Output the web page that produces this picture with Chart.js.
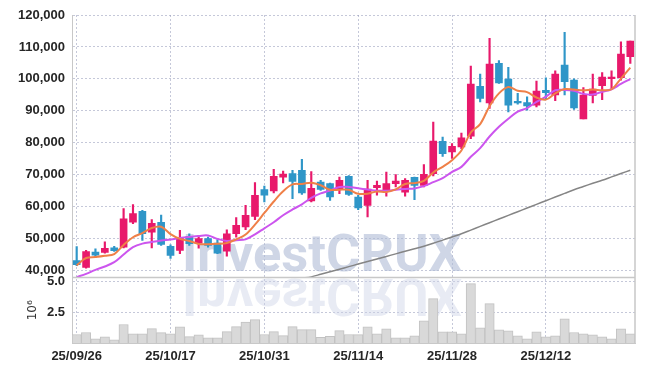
<!DOCTYPE html>
<html>
<head>
<meta charset="utf-8">
<script src="https://cdn.jsdelivr.net/npm/chart.js@4.4.1/dist/chart.umd.min.js"></script>
<style>
  html, body { margin: 0; padding: 0; background: #fff; }
  #wrap { width: 645px; height: 371px; position: relative; }
</style>
</head>
<body>
<div id="wrap"><canvas id="chart"></canvas></div>
<script>
// trading days shown on the x axis
const dates = [
  '25/09/26', '25/09/29', '25/09/30', '25/10/01', '25/10/02', '25/10/10', '25/10/13', '25/10/14', '25/10/15', '25/10/16',
  '25/10/17', '25/10/20', '25/10/21', '25/10/22', '25/10/23', '25/10/24', '25/10/27', '25/10/28', '25/10/29', '25/10/30',
  '25/10/31', '25/11/03', '25/11/04', '25/11/05', '25/11/06', '25/11/07', '25/11/10', '25/11/11', '25/11/12', '25/11/13',
  '25/11/14', '25/11/17', '25/11/18', '25/11/19', '25/11/20', '25/11/21', '25/11/24', '25/11/25', '25/11/26', '25/11/27',
  '25/11/28', '25/12/01', '25/12/02', '25/12/03', '25/12/04', '25/12/05', '25/12/08', '25/12/09', '25/12/10', '25/12/11',
  '25/12/12', '25/12/15', '25/12/16', '25/12/17', '25/12/18', '25/12/19', '25/12/22', '25/12/23', '25/12/24', '25/12/26'
];

const priceTicks = [40000, 50000, 60000, 70000, 80000, 90000, 100000, 110000, 120000];
const volumeTicks = [2.5, 5.0];

const opens = [
  43100, 40950, 45750, 45650, 47100, 47300, 55150, 58500, 52000, 55050,
  47550, 46250, 50650, 48550, 49950, 48550, 46050, 51500, 53600, 56950,
  65300, 64900, 69250, 70350, 71350, 61750, 67700, 67200, 65650, 69500,
  63000, 60400, 65950, 65300, 67200, 64550, 69150, 66650, 70350, 80450,
  77100, 78700, 82050, 97700, 92500, 104850, 99900, 92800, 92600, 91750,
  96450, 95000, 104300, 99600, 87450, 94800, 97900, 100100, 100350, 106950
];
const highs = [
  47500, 46300, 46800, 49000, 47550, 59350, 60600, 58800, 55900, 57350,
  48050, 52550, 51500, 51000, 50450, 49650, 52750, 56550, 60400, 67500,
  66450, 71700, 71150, 71350, 74800, 70950, 68250, 67400, 69250, 69700,
  63550, 68250, 68000, 70850, 70000, 68750, 69250, 73150, 86500, 81800,
  79750, 83050, 104000, 101500, 112700, 105700, 103600, 95450, 94350, 99300,
  100350, 102550, 114550, 100000, 97300, 101500, 102000, 102500, 111600, 111850
];
const lows = [
  41500, 40700, 44000, 45450, 45950, 47100, 54650, 49400, 47100, 47850,
  43750, 45250, 47850, 47000, 47300, 45250, 44500, 50450, 52750, 55900,
  61450, 64250, 67400, 62500, 63850, 61450, 65100, 61950, 64050, 63500,
  59050, 56750, 63550, 63300, 66150, 63300, 62200, 66150, 69600, 75750,
  75050, 78150, 81300, 92800, 90750, 98550, 89650, 92050, 90200, 91250,
  93500, 93200, 95000, 90400, 87450, 92500, 93500, 96600, 99600, 104850
];
const closes = [
  41800, 45950, 44800, 46900, 46200, 56200, 57800, 51500, 54750, 48150,
  44700, 50250, 48400, 49950, 47850, 45450, 51500, 54100, 57250, 63550,
  63550, 69500, 70200, 67900, 64250, 65700, 65400, 63000, 68250, 63850,
  59550, 65500, 66650, 67200, 68000, 68250, 66650, 70100, 80550, 76600,
  78900, 81500, 98350, 93850, 104650, 98750, 91750, 92500, 91550, 96150,
  95650, 101500, 99100, 90900, 94900, 96800, 100550, 100550, 107750, 111850
];

// moving averages
const ma5 = [
  41600, 43900, 44200, 44600, 45150, 48000, 50400, 51700, 53300, 53700,
  51400, 49900, 49250, 48300, 48250, 48350, 48600, 49750, 51250, 54350,
  58000, 61600, 64800, 66950, 67100, 67500, 66700, 65250, 65300, 65250,
  64000, 64050, 64750, 64550, 65400, 67100, 67350, 68050, 70700, 72450,
  74550, 77550, 83200, 85850, 91450, 95450, 97450, 96300, 95850, 94150,
  93500, 95450, 96800, 96650, 96400, 96650, 96450, 96750, 100100, 103500
];
const ma10 = [
  37900, 38950, 40200, 41250, 42600, 45000, 47300, 48400, 48900, 49400,
  49700, 50150, 50500, 50800, 50950, 49900, 49250, 49500, 49750, 51300,
  53200, 55100, 57300, 59100, 60700, 62750, 64150, 65050, 66150, 66150,
  65750, 65350, 65000, 64950, 65300, 65550, 65700, 66400, 67650, 68900,
  70850, 72450, 75600, 78300, 81950, 85000, 87500, 89750, 90850, 92800,
  94450, 96450, 96550, 96250, 95300, 95100, 95950, 96750, 98400, 99950
];
const ma60 = [
  null, null, null, null, null, null, null, null, null, null,
  null, null, null, null, null, null, null, null, null, null,
  null, null, null, null, 37600, 38000, 38800, 39600, 40400, 41200,
  42000, 42800, 43600, 44400, 45200, 46000, 46800, 47600, 48500, 49500,
  50500, 51500, 52650, 53800, 54950, 56100, 57250, 58400, 59550, 60700,
  61850, 63000, 64150, 65300, 66300, 67300, 68250, 69300, 70350, 71400
];

// volume in millions of shares
const volumes = [
  0.69, 0.85, 0.34, 0.50, 0.26, 1.50, 0.74, 0.74, 1.16, 0.84,
  0.74, 1.30, 0.51, 0.66, 0.42, 0.42, 0.92, 1.32, 1.70, 1.89,
  0.69, 0.92, 0.60, 1.32, 1.08, 1.08, 0.45, 0.54, 1.00, 0.69,
  0.68, 1.30, 0.75, 1.15, 0.42, 0.42, 0.58, 1.80, 3.59, 0.91,
  0.91, 0.74, 4.80, 1.23, 3.18, 1.07, 0.99, 0.58, 0.34, 0.91,
  0.50, 0.58, 1.96, 0.85, 0.74, 0.66, 0.50, 0.34, 1.15, 0.74
];

const UP = '#e8196b';
const DOWN = '#2f96c8';
const GRID = 'rgba(150,155,185,0.55)';
const candleColors = opens.map((o, i) => closes[i] >= o ? UP : DOWN);

const tickFont = { family: "'Liberation Sans', Arial, sans-serif", size: 13, weight: 'bold' };

// InvestCRUX watermark with its mirrored reflection
const watermark = {
    id: 'watermark',
    beforeDatasetsDraw(chart) {
        const ctx = chart.ctx;
        const area = chart.chartArea;
        const panelBottom = chart.scales.y.bottom;
        const text = 'InvestCRUX';
        ctx.save();
        ctx.font = "bold 52px Roboto, 'Liberation Sans', sans-serif";
        ctx.textBaseline = 'alphabetic';
        const sx = 280 / ctx.measureText(text).width;

        ctx.save();
        ctx.translate(area.left + 110, panelBottom - 7);
        ctx.scale(sx, 1);
        ctx.fillStyle = 'rgba(175,186,214,0.6)';
        ctx.fillText(text, 0, 0);
        ctx.restore();

        ctx.save();
        ctx.translate(area.left + 110, panelBottom + 1);
        ctx.scale(sx, -1);
        ctx.fillStyle = 'rgba(205,210,230,0.45)';
        ctx.fillText(text, 0, 0);
        ctx.restore();
        ctx.restore();
    }
};

// pane separator and right frame line
const frame = {
    id: 'frame',
    afterDatasetsDraw(chart) {
        const ctx = chart.ctx;
        const area = chart.chartArea;
        const y = chart.scales.y.bottom;
        ctx.save();
        ctx.strokeStyle = '#c8c8c8';
        ctx.lineWidth = 1.5;
        ctx.beginPath();
        ctx.moveTo(area.left, y);
        ctx.lineTo(area.right, y);
        ctx.moveTo(area.right, area.top);
        ctx.lineTo(area.right, area.bottom);
        ctx.stroke();
        ctx.restore();
    }
};

new Chart(document.getElementById('chart'), {
    type: 'bar',
    data: {
        labels: dates,
        datasets: [
            {
                type: 'line', label: 'MA5', data: ma5, yAxisID: 'y', order: 0,
                borderColor: '#ef8048', borderWidth: 2, pointRadius: 0, tension: 0.35
            },
            {
                type: 'line', label: 'MA10', data: ma10, yAxisID: 'y', order: 0,
                borderColor: '#cc55ee', borderWidth: 2, pointRadius: 0, tension: 0.35
            },
            {
                type: 'line', label: 'MA60', data: ma60, yAxisID: 'y', order: 0,
                borderColor: '#858585', borderWidth: 1.5, pointRadius: 0, tension: 0.3
            },
            {
                label: 'body', data: opens.map((o, i) => [o, closes[i]]), yAxisID: 'y', order: 1,
                backgroundColor: candleColors, barThickness: 7, grouped: false, minBarLength: 1.5
            },
            {
                label: 'wick', data: lows.map((l, i) => [l, highs[i]]), yAxisID: 'y', order: 2,
                backgroundColor: candleColors, barThickness: 1.5, grouped: false
            },
            {
                label: 'volume', data: volumes, yAxisID: 'yVol', order: 3,
                backgroundColor: '#d9d9d9', borderColor: '#c2c2c2', borderWidth: 1,
                barPercentage: 1, categoryPercentage: 1, grouped: false
            }
        ]
    },
    options: {
        responsive: true,
        maintainAspectRatio: false,
        animation: false,
        layout: { padding: { top: 15, right: 10, left: 0, bottom: 0 } },
        plugins: { legend: { display: false }, tooltip: { enabled: false } },
        scales: {
            x: {
                type: 'category',
                offset: true,
                grid: { offset: false, color: GRID, drawTicks: false },
                border: { color: '#c8c8c8', dash: [2, 2] },
                ticks: {
                    autoSkip: false, maxRotation: 0, padding: 6, color: '#262626', font: tickFont,
                    callback(v, i) { return i % 10 === 0 ? dates[i] : null; }
                },
                afterFit(s) { s.height = 28; }
            },
            yVol: {
                position: 'left', stack: 'panes', stackWeight: 65.5,
                min: 0, max: 5.3,
                grid: { color: GRID, drawTicks: false },
                border: { color: '#c8c8c8', dash: [2, 2] },
                afterBuildTicks(s) { s.ticks = volumeTicks.map(value => ({ value })); },
                ticks: {
                    autoSkip: false, padding: 7, color: '#262626', font: tickFont,
                    callback: v => v.toFixed(1)
                },
                title: {
                    display: true, text: '10⁶', color: '#333',
                    font: { family: "'DejaVu Sans', sans-serif", size: 12 },
                    padding: { top: 26, bottom: 0 }
                },
                afterFit(s) { s.width = 72; }
            },
            y: {
                position: 'left', stack: 'panes', stackWeight: 262.5,
                min: 37800, max: 120000,
                grid: { color: GRID, drawTicks: false },
                border: { color: '#c8c8c8', dash: [2, 2] },
                afterBuildTicks(s) { s.ticks = priceTicks.map(value => ({ value })); },
                ticks: {
                    autoSkip: false, padding: 7, color: '#262626', font: tickFont,
                    callback: v => v.toLocaleString('en-US')
                },
                afterFit(s) { s.width = 72; }
            }
        }
    },
    plugins: [watermark, frame]
});
</script>
</body>
</html>
